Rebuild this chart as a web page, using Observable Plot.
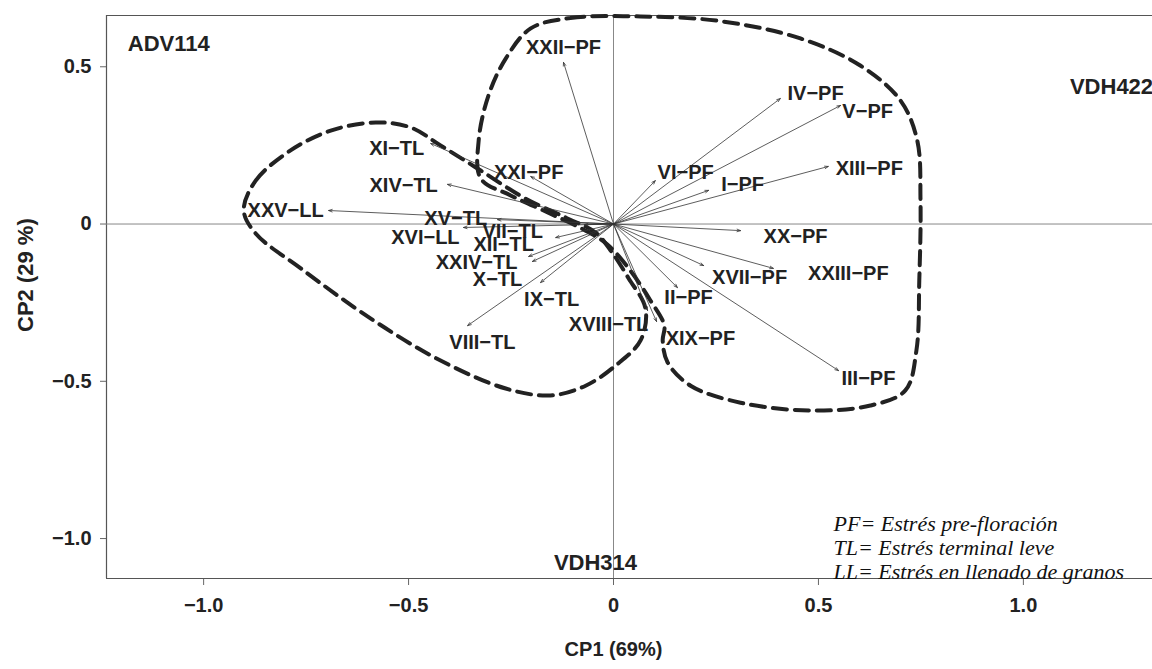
<!DOCTYPE html>
<html>
<head>
<meta charset="utf-8">
<script src="https://cdn.jsdelivr.net/npm/d3@7"></script>
<script src="https://cdn.jsdelivr.net/npm/@observablehq/plot@0.6"></script>
<style>
  body { margin: 0; background: #fff; overflow: hidden; }
  #chart svg { display: block; }
</style>
</head>
<body>
<div id="chart"></div>
<script>
// Environment loadings (arrow tips) on CP1 / CP2
const variables = [
  "XXII−PF", "XI−TL", "XIV−TL", "XXI−PF", "XXV−LL", "XV−TL", "XVI−LL", "VII−TL",
  "XII−TL", "XXIV−TL", "X−TL", "IX−TL", "VIII−TL", "VI−PF", "IV−PF", "V−PF",
  "I−PF", "XIII−PF", "XX−PF", "XVII−PF", "XXIII−PF", "II−PF", "XVIII−TL", "XIX−PF", "III−PF"
];
const cp1 = [
  -0.122, -0.446, -0.405, -0.202, -0.695, -0.283, -0.366, -0.071,
  -0.141, -0.207, -0.198, -0.178, -0.356, 0.102, 0.407, 0.554,
  0.232, 0.524, 0.310, 0.220, 0.390, 0.156, 0.083, 0.105, 0.549
];
const cp2 = [
  0.514, 0.256, 0.126, 0.151, 0.043, 0.014, -0.011, -0.002,
  -0.043, -0.103, -0.119, -0.186, -0.323, 0.138, 0.399, 0.377,
  0.107, 0.183, -0.021, -0.132, -0.141, -0.202, -0.275, -0.310, -0.466
];
// Where each environment name is written
const labelCp1 = [
  -0.122, -0.529, -0.512, -0.207, -0.800, -0.385, -0.459, -0.246,
  -0.268, -0.334, -0.283, -0.151, -0.320, 0.176, 0.493, 0.620,
  0.315, 0.624, 0.444, 0.332, 0.573, 0.183, -0.012, 0.212, 0.622
];
const labelCp2 = [
  0.561, 0.240, 0.122, 0.164, 0.043, 0.017, -0.043, -0.024,
  -0.065, -0.122, -0.176, -0.240, -0.377, 0.164, 0.415, 0.358,
  0.126, 0.176, -0.040, -0.170, -0.157, -0.234, -0.320, -0.364, -0.491
];

// Genotypes
const genotypes = ["ADV114", "VDH422", "VDH314"];
const genoCp1 = [-1.085, 1.215, -0.044];
const genoCp2 = [0.571, 0.437, -1.079];

// Outlines of the two environment groups
const groupTL = [
  [-0.902, 0.043], [-0.873, 0.138], [-0.788, 0.234], [-0.690, 0.297], [-0.580, 0.323],
  [-0.495, 0.307], [-0.422, 0.250], [-0.324, 0.170], [-0.215, 0.081], [-0.117, 0.021],
  [-0.044, -0.027], [-0.007, -0.084], [0.037, -0.173], [0.078, -0.269], [0.066, -0.370],
  [0.005, -0.450], [-0.068, -0.514], [-0.154, -0.545], [-0.263, -0.523], [-0.422, -0.434],
  [-0.593, -0.300], [-0.763, -0.141], [-0.873, -0.030]
];
const groupPF = [
  [-0.202, 0.622], [-0.105, 0.655], [0.066, 0.660], [0.261, 0.645], [0.456, 0.590],
  [0.602, 0.504], [0.700, 0.393], [0.741, 0.266], [0.749, 0.075], [0.746, -0.180],
  [0.739, -0.402], [0.712, -0.529], [0.627, -0.577], [0.480, -0.593], [0.310, -0.568],
  [0.188, -0.514], [0.132, -0.440], [0.120, -0.370], [0.124, -0.323], [0.090, -0.243],
  [0.037, -0.141], [-0.015, -0.065], [-0.068, -0.021], [-0.154, 0.033], [-0.251, 0.091],
  [-0.324, 0.145], [-0.329, 0.265], [-0.305, 0.409], [-0.263, 0.526]
];

const xTicks = [-1, -0.5, 0, 0.5, 1];
const yTicks = [-1, -0.5, 0, 0.5];
const xTitle = "CP1 (69%)";
const yTitle = "CP2 (29 %)";
const legendLines = [
  "PF= Estrés pre-floración",
  "TL= Estrés terminal leve",
  "LL= Estrés en llenado de granos"
];

const xDomain = [-1.237, 1.315];
const yDomain = [-1.127, 0.663];
const fmt = d => d === 0 ? "0" : d3.format(".1f")(d);
const idx = d3.range(variables.length);
const sans = "'Liberation Sans', Arial, sans-serif";

const chart = Plot.plot({
  width: 1152,
  height: 669,
  marginTop: 15,
  marginBottom: 91,
  marginLeft: 106,
  marginRight: 0,
  style: { fontFamily: sans, fontSize: "20px", fontWeight: "bold", color: "#222", background: "#fff" },
  x: { domain: xDomain },
  y: { domain: yDomain },
  marks: [
    // axes
    Plot.axisX(xTicks, { tickFormat: fmt, tickSize: 7, tickPadding: 12, stroke: "#666", fill: "#222", label: null }),
    Plot.axisY(yTicks, { tickFormat: fmt, tickSize: 6, tickPadding: 9, stroke: "#666", fill: "#222", label: null }),
    // plot border (left, top, bottom)
    Plot.ruleX([xDomain[0]], { stroke: "#555", strokeWidth: 1.2 }),
    Plot.ruleY(yDomain, { stroke: "#555", strokeWidth: 1.2 }),
    // zero reference lines
    Plot.ruleX([0], { stroke: "#888", strokeWidth: 1 }),
    Plot.ruleY([0], { stroke: "#888", strokeWidth: 1 }),
    // group outlines
    Plot.line(groupTL, { curve: "catmull-rom-closed", stroke: "#222", strokeWidth: 4, strokeDasharray: "14,8" }),
    Plot.line(groupPF, { curve: "catmull-rom-closed", stroke: "#222", strokeWidth: 4, strokeDasharray: "14,8" }),
    // loading vectors
    Plot.arrow(idx, {
      x1: 0, y1: 0, x2: i => cp1[i], y2: i => cp2[i],
      stroke: "#333", strokeWidth: 0.8, headLength: 7, headAngle: 40
    }),
    // environment names
    Plot.text(idx, {
      x: i => labelCp1[i], y: i => labelCp2[i], text: i => variables[i],
      fill: "#222", fontSize: 20, fontWeight: "bold"
    }),
    // genotype names
    Plot.text(genotypes, {
      x: (d, i) => genoCp1[i], y: (d, i) => genoCp2[i], text: d => d,
      fill: "#222", fontSize: 22, fontWeight: "bold"
    }),
    // axis titles
    Plot.text([xTitle], { x: [0], frameAnchor: "bottom", dy: 77, text: d => d, fill: "#222", fontSize: 20, fontWeight: "bold" }),
    Plot.text([yTitle], { frameAnchor: "left", dx: -81, dy: 35, rotate: -90, text: d => d, fill: "#222", fontSize: 22, fontWeight: "bold" }),
    // abbreviations key
    Plot.text([legendLines.join("\n")], {
      frameAnchor: "bottom-left", dx: 727, dy: 0, lineAnchor: "bottom", lineHeight: 1.07,
      textAnchor: "start", text: d => d, fill: "#111",
      fontFamily: "'Liberation Serif', 'Times New Roman', serif", fontStyle: "italic",
      fontWeight: "normal", fontSize: 22
    })
  ]
});

document.getElementById("chart").append(chart);
</script>
</body>
</html>
